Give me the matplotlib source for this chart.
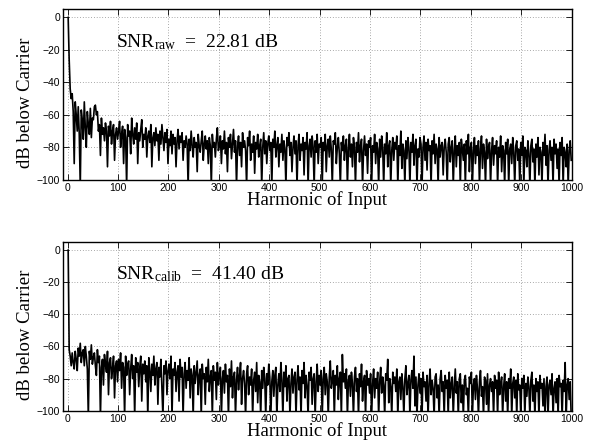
import numpy as np
import matplotlib
matplotlib.use("Agg")
import matplotlib.pyplot as plt

# harmonic index of each sample (every second harmonic, carrier at 1)
harmonics = np.arange(1, 1001, 2)

# raw spectrum, dB below carrier
snr_raw_db = [
    0, -26, -44, -50, -47, -58, -90, -52, -60, -70, -55, -72, -104, -57, -63, -75, -52, -68, -80, -58, -66, -72, -56, -74, -62,
    -63, -55, -54, -60, -58, -70, -66, -85, -62, -72, -68, -76, -65, -70, -92, -67, -73, -64, -78, -70, -66, -88, -72, -68, -75,
    -70, -64, -80, -72, -67, -90, -69, -74, -104, -66, -73, -70, -84, -62, -72, -78, -68, -75, -65, -90, -71, -76, -69, -63, -80,
    -72, -75, -68, -86, -73, -70, -77, -66, -92, -74, -71, -79, -68, -76, -72, -88, -70, -78, -66, -74, -82, -71, -77, -69, -90,
    -75, -79, -70, -84, -72, -78, -74, -92, -76, -69, -81, -73, -77, -71, -88, -76, -80, -73, -78, -104, -75, -82, -70, -79, -86,
    -74, -80, -77, -95, -72, -79, -83, -76, -70, -88, -78, -73, -81, -76, -90, -74, -79, -104, -72, -80, -77, -86, -75, -68, -82,
    -79, -73, -90, -76, -81, -70, -84, -77, -95, -74, -80, -72, -87, -78, -69, -83, -76, -104, -79, -73, -85, -77, -92, -71, -80,
    -76, -82, -104, -74, -79, -70, -88, -78, -83, -73, -96, -77, -81, -72, -86, -79, -75, -104, -80, -71, -84, -76, -90, -78, -73,
    -82, -77, -104, -75, -80, -70, -86, -79, -74, -92, -78, -83, -72, -88, -76, -81, -104, -74, -79, -71, -85, -77, -95, -80, -73,
    -84, -76, -104, -79, -72, -88, -78, -82, -74, -97, -77, -81, -71, -104, -79, -75, -86, -73, -80, -104, -76, -83, -72, -90, -78,
    -80, -74, -104, -77, -82, -72, -95, -79, -75, -86, -73, -81, -104, -76, -78, -71, -90, -80, -74, -84, -104, -77, -82, -73, -88,
    -79, -75, -104, -81, -72, -86, -78, -92, -74, -80, -104, -77, -83, -71, -89, -79, -75, -104, -82, -73, -85, -78, -96, -76, -80,
    -74, -104, -79, -83, -72, -90, -77, -81, -104, -75, -86, -73, -80, -104, -78, -84, -71, -92, -79, -76, -104, -82, -74, -88, -77,
    -81, -73, -104, -79, -85, -70, -93, -78, -82, -104, -76, -87, -74, -80, -104, -77, -83, -72, -91, -79, -75, -104, -81, -86, -74,
    -78, -104, -80, -73, -88, -77, -94, -75, -82, -79, -104, -76, -84, -72, -90, -78, -81, -104, -74, -86, -79, -77, -97, -80, -75,
    -83, -104, -78, -74, -89, -80, -76, -104, -82, -73, -92, -79, -85, -77, -104, -75, -81, -88, -78, -104, -76, -84, -72, -95, -80,
    -77, -104, -82, -74, -90, -79, -85, -76, -104, -81, -73, -93, -78, -83, -104, -75, -87, -80, -77, -104, -82, -74, -91, -79, -84,
    -76, -104, -80, -86, -73, -95, -79, -82, -104, -77, -84, -75, -104, -81, -78, -90, -74, -83, -104, -79, -76, -88, -81, -104, -77,
    -85, -73, -104, -80, -82, -92, -76, -84, -104, -79, -75, -89, -81, -104, -78, -86, -74, -97, -80, -83, -104, -77, -85, -72, -91,
    -79, -104, -82, -76, -88, -80, -104, -75, -84, -78, -93, -81, -104, -77, -85, -74, -104, -80, -83, -92, -78, -104, -82, -76, -88,
]

# calibrated spectrum, dB below carrier
snr_calib_db = [
    0, -62, -66, -72, -64, -70, -74, -63, -68, -75, -61, -66, -58, -70, -64, -62, -72, -60, -66, -74, -104, -63, -68, -59, -71,
    -67, -64, -72, -78, -62, -70, -66, -104, -73, -68, -84, -65, -71, -76, -63, -90, -70, -67, -80, -74, -66, -92, -72, -69, -82,
    -68, -75, -64, -86, -70, -73, -104, -66, -78, -71, -69, -90, -74, -65, -80, -72, -104, -67, -76, -70, -85, -73, -66, -94, -71,
    -77, -69, -82, -72, -104, -67, -75, -88, -71, -78, -66, -84, -74, -70, -96, -73, -79, -68, -86, -104, -72, -77, -69, -90, -75,
    -71, -80, -66, -104, -74, -78, -70, -88, -76, -72, -94, -68, -79, -73, -104, -77, -70, -86, -75, -81, -67, -92, -74, -78, -104,
    -72, -83, -76, -69, -90, -78, -74, -104, -71, -80, -77, -96, -73, -82, -68, -88, -79, -75, -104, -72, -81, -76, -93, -70, -84,
    -77, -73, -104, -80, -75, -89, -71, -82, -78, -104, -74, -85, -69, -92, -79, -76, -104, -81, -73, -87, -78, -70, -96, -80, -75,
    -83, -104, -77, -72, -90, -79, -84, -74, -104, -81, -76, -88, -70, -95, -78, -82, -104, -75, -86, -73, -80, -104, -77, -84, -71,
    -79, -104, -82, -75, -91, -78, -73, -104, -84, -77, -88, -70, -81, -104, -76, -85, -72, -94, -80, -78, -104, -83, -74, -89, -79,
    -76, -104, -81, -72, -87, -79, -104, -75, -83, -70, -92, -78, -84, -104, -76, -81, -73, -96, -80, -77, -104, -82, -71, -88, -78,
    -84, -75, -104, -80, -73, -90, -77, -82, -104, -79, -69, -86, -81, -75, -104, -78, -84, -72, -93, -80, -76, -104, -65, -82, -77,
    -86, -74, -104, -81, -78, -91, -76, -83, -104, -79, -73, -88, -80, -104, -77, -85, -71, -94, -82, -78, -104, -75, -84, -80, -89,
    -77, -104, -83, -74, -92, -80, -86, -76, -104, -82, -73, -89, -79, -84, -104, -77, -81, -68, -95, -80, -85, -104, -76, -83, -79,
    -88, -74, -104, -82, -79, -93, -77, -85, -104, -80, -72, -90, -83, -78, -104, -81, -75, -86, -66, -97, -79, -104, -84, -77, -89,
    -80, -104, -76, -85, -82, -94, -78, -104, -83, -74, -90, -81, -86, -104, -79, -77, -92, -84, -104, -80, -75, -88, -82, -104, -78,
    -86, -81, -104, -76, -92, -83, -79, -104, -85, -74, -89, -82, -104, -80, -77, -95, -84, -104, -81, -78, -90, -86, -104, -79, -83,
    -76, -104, -84, -80, -93, -78, -86, -104, -82, -75, -91, -85, -104, -79, -81, -96, -77, -104, -84, -80, -88, -82, -104, -78, -86,
    -81, -104, -76, -90, -83, -79, -104, -85, -77, -94, -82, -104, -80, -86, -74, -104, -83, -79, -92, -81, -104, -77, -87, -84, -104,
    -80, -86, -78, -104, -83, -91, -79, -85, -104, -81, -76, -94, -84, -104, -80, -88, -82, -104, -78, -86, -83, -97, -80, -104, -85,
    -79, -104, -84, -81, -90, -77, -104, -86, -82, -95, -80, -104, -78, -85, -83, -104, -81, -88, -70, -104, -84, -80, -93, -82, -104,
]

snr_labels = [r"SNR$_{\mathrm{raw}}$  =  22.81 dB", r"SNR$_{\mathrm{calib}}$  =  41.40 dB"]

plt.rcParams["mathtext.fontset"] = "custom"
plt.rcParams["mathtext.rm"] = "Liberation Serif"
plt.rcParams["mathtext.it"] = "Liberation Serif:italic"

fig = plt.figure(figsize=(5.9, 4.45), dpi=100)
ax_top = fig.add_axes([0.107, 0.596, 0.862, 0.383])
ax_bot = fig.add_axes([0.107, 0.077, 0.862, 0.379])

for ax, values, label in zip([ax_top, ax_bot], [snr_raw_db, snr_calib_db], snr_labels):
    ax.plot(harmonics, values, color="black", lw=1.2)
    ax.set_xlim(-9, 1000)
    ax.set_ylim(-100, 5)
    ax.set_xticks(np.arange(0, 1001, 100))
    ax.set_yticks(np.arange(-100, 1, 20))
    ax.grid(True, color="0.35", lw=0.5, linestyle=(0, (1, 3)))
    ax.tick_params(direction="in", top=True, right=True, length=4, width=0.6,
                   labelsize=7.5, pad=2)
    for t in ax.get_xticklabels() + ax.get_yticklabels():
        t.set_family("Liberation Sans")
    for s in ax.spines.values():
        s.set_linewidth(1.0)
    ax.set_xlabel("Harmonic of Input", family="Liberation Serif", fontsize=13.5, labelpad=-1)
    ax.set_ylabel("dB below Carrier", family="Liberation Serif", fontsize=13.5)
    ax.yaxis.set_label_coords(-0.058, 0.45)
    ax.text(95, -15, label, family="Liberation Serif", fontsize=14, va="center", ha="left")

fig.savefig("out.png", dpi=100)
